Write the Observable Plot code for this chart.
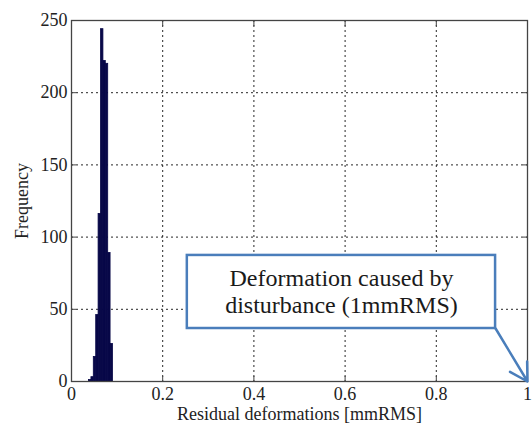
<!DOCTYPE html>
<html>
<head>
<meta charset="utf-8">
<script src="https://cdn.jsdelivr.net/npm/d3@7"></script>
<script src="https://cdn.jsdelivr.net/npm/@observablehq/plot@0.6"></script>
<style>
  html, body { margin: 0; padding: 0; background: #ffffff; }
  #chart svg { display: block; }
  #chart svg text { font-family: "Liberation Serif", "Times New Roman", serif !important; font-variant-numeric: normal !important; }
</style>
</head>
<body>
<div id="chart"></div>
<script>
// Histogram bins (left edges, right edges) and frequencies
const binStart = [0.0384, 0.0437, 0.0489, 0.0542, 0.0594, 0.0647, 0.0700, 0.0752, 0.0805, 0.0857];
const binEnd   = [0.0437, 0.0489, 0.0542, 0.0594, 0.0647, 0.0700, 0.0752, 0.0805, 0.0857, 0.0910];
const frequency = [1, 3, 17, 46, 116, 244, 222, 220, 89, 26];

const xTicks = [0, 0.2, 0.4, 0.6, 0.8, 1];
const xTickLabels = ["0", "0.2", "0.4", "0.6", "0.8", "1"];
const yTicks = [0, 50, 100, 150, 200, 250];

// Annotation box (data coordinates) and its text / arrow
const noteBox = [{x1: 0.254, x2: 0.930, y1: 36.7, y2: 87.3}];
const noteLines = ["Deformation caused by", "disturbance (1mmRMS)"];
const noteLineY = [71.5, 52.5];
const noteX = 0.592;
const arrowFrom = [0.930, 36.7];
const arrowTo = [1.0, 0];

const bins = binStart.map((s, i) => ({x1: s, x2: binEnd[i], y: frequency[i]}));
const notes = noteLines.map((t, i) => ({text: t, x: noteX, y: noteLineY[i]}));
const arrows = [{x1: arrowFrom[0], y1: arrowFrom[1], x2: arrowTo[0], y2: arrowTo[1]}];

const serif = "Liberation Serif";

const chart = Plot.plot({
  width: 532,
  height: 428,
  marginLeft: 71,
  marginRight: 5,
  marginTop: 20,
  marginBottom: 47,
  style: {fontFamily: serif, fontSize: "18px", color: "#222", background: "#ffffff", overflow: "visible"},
  x: {domain: [0, 1]},
  y: {domain: [0, 250]},
  marks: [
    Plot.gridX(xTicks.slice(1, -1), {stroke: "#000", strokeOpacity: 0.85, strokeDasharray: "2,3", strokeWidth: 1}),
    Plot.gridY(yTicks.slice(1, -1), {stroke: "#000", strokeOpacity: 0.85, strokeDasharray: "2,3", strokeWidth: 1}),
    Plot.rect(bins, {x1: "x1", x2: "x2", y1: 0, y2: "y", fill: "#080848", stroke: "#080848", strokeWidth: 0.8, inset: 0}),
    Plot.axisX(xTicks, {tickSize: -5, tickPadding: 11, tickFormat: (d, i) => xTickLabels[i], stroke: "#444",
      label: "Residual deformations [mmRMS]", labelAnchor: "center", labelArrow: "none", labelOffset: 38, fontSize: 18}),
    Plot.axisX(xTicks, {anchor: "top", tickSize: -5, tickFormat: () => "", stroke: "#444", label: null}),
    Plot.axisY(yTicks, {tickSize: -5, tickPadding: 9, stroke: "#444",
      label: "Frequency", labelAnchor: "center", labelArrow: "none", labelOffset: 56, fontSize: 18}),
    Plot.axisY(yTicks, {anchor: "right", tickSize: -5, tickFormat: () => "", stroke: "#444", label: null}),
    Plot.frame({stroke: "#444", strokeWidth: 1.3}),
    Plot.rect(noteBox, {x1: "x1", x2: "x2", y1: "y1", y2: "y2", fill: "#ffffff", stroke: "#4a7ebb", strokeWidth: 2.5}),
    Plot.text(notes, {x: "x", y: "y", text: "text", fontSize: 24, fill: "#1a1a1a"}),
    Plot.arrow(arrows, {x1: "x1", y1: "y1", x2: "x2", y2: "y2", stroke: "#4a7ebb", strokeWidth: 2.5, headLength: 12})
  ]
});

document.getElementById("chart").appendChild(chart);
</script>
</body>
</html>
